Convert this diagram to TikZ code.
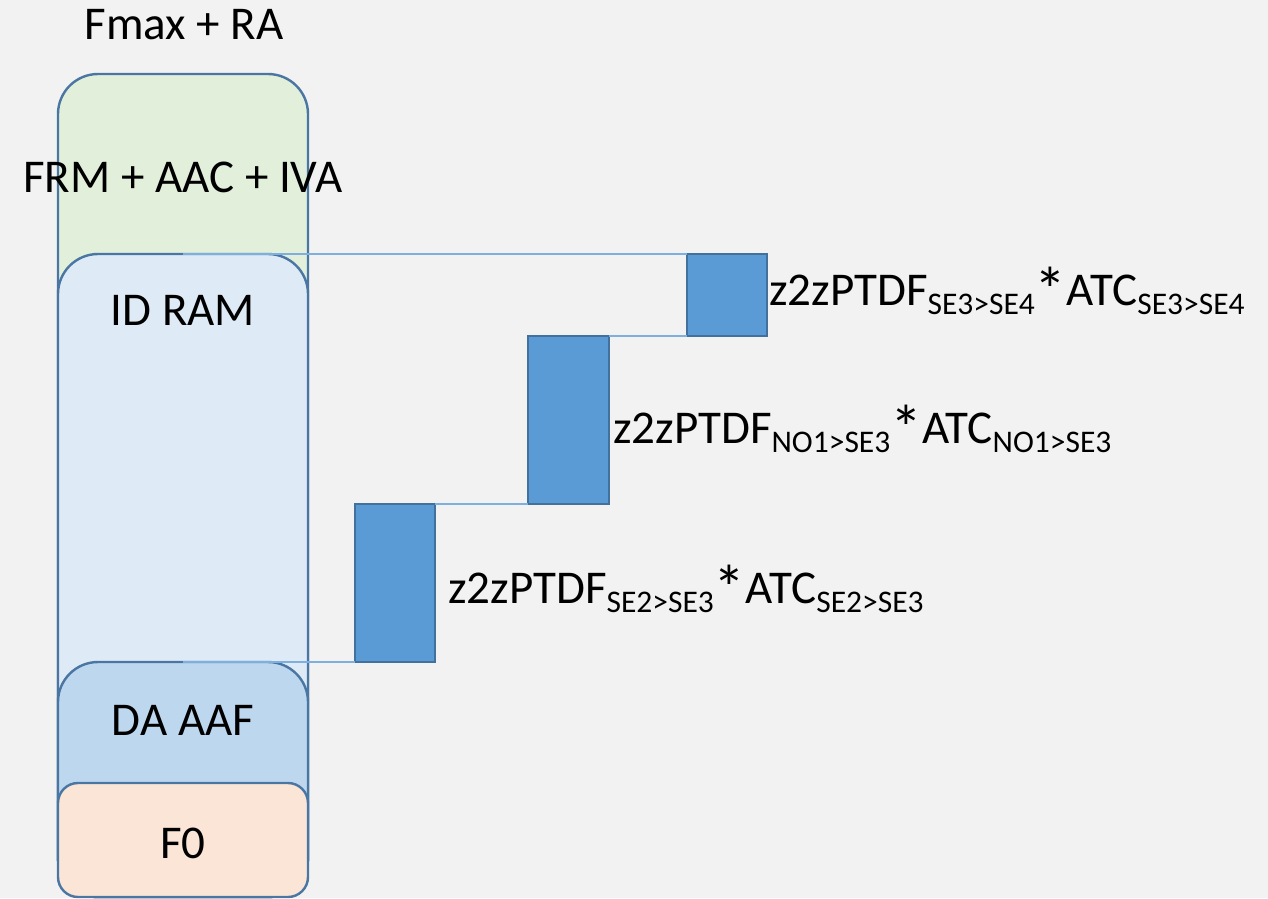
\documentclass[tikz,border=0pt]{standalone}
\usepackage{fontspec}
\setmainfont{Carlito}
\definecolor{bgcol}{HTML}{F2F2F2}
\definecolor{edgecol}{HTML}{4A76A3}
\definecolor{frmfill}{HTML}{E2EFDA}
\definecolor{ramfill}{HTML}{DEEAF6}
\definecolor{aaffill}{HTML}{BDD7EE}
\definecolor{fzerofill}{HTML}{FBE5D6}
\definecolor{barfill}{HTML}{5B9BD5}
\definecolor{baredge}{HTML}{41719C}
\definecolor{linkcol}{HTML}{7EB0DF}
\newcommand{\lowtext}[1]{\raisebox{-9pt}{\fontsize{31.5}{32}\selectfont #1}}
\newcommand{\bigstar}{\raisebox{-7pt}{\fontsize{64}{64}\selectfont *}}
\tikzset{
  colbox/.style={draw=edgecol, line width=2.4pt, minimum width=250pt, inner sep=0pt, outer sep=0pt, anchor=north west},
  barbox/.style={draw=baredge, fill=barfill, line width=2.2pt, inner sep=0pt, outer sep=0pt, anchor=north west},
  link/.style={draw=linkcol, line width=1.6pt},
  bigtext/.style={font=\fontsize{47}{56}\selectfont, inner sep=0pt, anchor=base},
  formula/.style={font=\fontsize{47}{56}\selectfont, inner sep=0pt, anchor=base west}
}
\begin{document}
\begin{tikzpicture}[x=1pt, y=-1pt]
  \fill[bgcol] (0,0) rectangle (1268,898);
  \useasboundingbox (0,0) rectangle (1268,898);
  \begin{scope}
    \clip (0,0) rectangle (1268,898);
    % stacked capacity column
    \node[colbox, fill=frmfill, rounded corners=40pt, minimum height=823pt] (frm) at (58,74) {};
    \node[colbox, fill=ramfill, rounded corners=40pt, minimum height=643pt] (idram) at (58,254) {};
    \node[colbox, fill=aaffill, rounded corners=40pt, minimum height=235pt] (daaaf) at (58,662) {};
    \node[colbox, fill=fzerofill, rounded corners=20pt, minimum height=114pt] (fzero) at (58,783) {};
  \end{scope}

  % flow-based steps
  \node[barbox, minimum width=80pt, minimum height=82pt] (b1) at (687,254) {};
  \node[barbox, minimum width=81pt, minimum height=168pt] (b2) at (528,336) {};
  \node[barbox, minimum width=80pt, minimum height=158pt] (b3) at (355,504) {};

  % connectors between the column and the steps
  \draw[link] (idram.north) -- (b1.north west);
  \draw[link] (b2.north east) -- (b1.south west);
  \draw[link] (b3.north east) -- (b2.south west);
  \draw[link] (daaaf.north) -- (b3.south west);

  % column labels
  \node[bigtext] (tfmax) at (184,39) {Fmax + RA};
  \node[bigtext] (tfrm) at (183,192) {FRM + AAC + IVA};
  \node[bigtext] (tram) at (183,325) {ID RAM};
  \node[bigtext] (taaf) at (183,735) {DA AAF};
  \node[bigtext] (tf0) at (183,858) {F0};

  % step labels
  \node[formula] (l1) at (769,305) {z2zPTDF\lowtext{SE3>SE4}\bigstar ATC\lowtext{SE3>SE4}};
  \node[formula] (l2) at (613,443) {z2zPTDF\lowtext{NO1>SE3}\bigstar ATC\lowtext{NO1>SE3}};
  \node[formula] (l3) at (448,603) {z2zPTDF\lowtext{SE2>SE3}\bigstar ATC\lowtext{SE2>SE3}};
\end{tikzpicture}
\end{document}
